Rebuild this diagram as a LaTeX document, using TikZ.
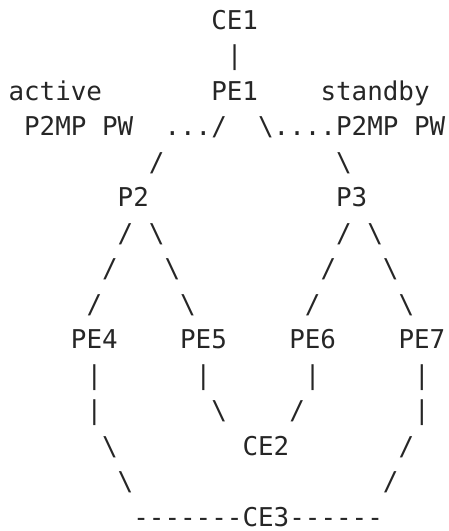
\documentclass[tikz,border=0pt]{standalone}
\usepackage{fontspec}
\setmonofont{DejaVu Sans Mono}
\definecolor{ink}{HTML}{262626}
\tikzset{
  txt/.style={font=\ttfamily\fontsize{25.9pt}{30pt}\selectfont, text=ink,
    inner sep=0pt, text height=18.9pt, text depth=0pt, anchor=center}
}
\begin{document}
\begin{tikzpicture}[x=15.6pt, y=-35.5pt]
\useasboundingbox (-8.5pt,20pt) rectangle (439.5pt,-511pt);
% row 0-3
\node[txt] (ce1) at (14.5,0) {CE1};
\node[txt] (l1) at (14.5,1) {|};
\node[txt] (active) at (3,2) {active};
\node[txt] (pe1) at (14.5,2) {PE1};
\node[txt] (standby) at (23.5,2) {standby};
\node[txt] (pwa) at (4.5,3) {P2MP PW};
\node[txt] (dotsl) at (12,3) {.../};
\node[txt] (dotsr) at (18.5,3) {\textbackslash....};
\node[txt] (pws) at (24.5,3) {P2MP PW};
% row 4-5
\node[txt] (s4a) at (9.5,4) {/};
\node[txt] (s4b) at (21.5,4) {\textbackslash};
\node[txt] (p2) at (8,5) {P2};
\node[txt] (p3) at (22,5) {P3};
% row 6-8
\node[txt] (s6a) at (7.5,6) {/};
\node[txt] (s6b) at (9.5,6) {\textbackslash};
\node[txt] (s6c) at (21.5,6) {/};
\node[txt] (s6d) at (23.5,6) {\textbackslash};
\node[txt] (s7a) at (6.5,7) {/};
\node[txt] (s7b) at (10.5,7) {\textbackslash};
\node[txt] (s7c) at (20.5,7) {/};
\node[txt] (s7d) at (24.5,7) {\textbackslash};
\node[txt] (s8a) at (5.5,8) {/};
\node[txt] (s8b) at (11.5,8) {\textbackslash};
\node[txt] (s8c) at (19.5,8) {/};
\node[txt] (s8d) at (25.5,8) {\textbackslash};
% row 9
\node[txt] (pe4) at (5.5,9) {PE4};
\node[txt] (pe5) at (12.5,9) {PE5};
\node[txt] (pe6) at (19.5,9) {PE6};
\node[txt] (pe7) at (26.5,9) {PE7};
% row 10-11
\node[txt] (v10a) at (5.5,10) {|};
\node[txt] (v10b) at (12.5,10) {|};
\node[txt] (v10c) at (19.5,10) {|};
\node[txt] (v10d) at (26.5,10) {|};
\node[txt] (v11a) at (5.5,11) {|};
\node[txt] (s11b) at (13.5,11) {\textbackslash};
\node[txt] (s11c) at (18.5,11) {/};
\node[txt] (v11d) at (26.5,11) {|};
% row 12-14
\node[txt] (s12a) at (6.5,12) {\textbackslash};
\node[txt] (ce2) at (16.5,12) {CE2};
\node[txt] (s12c) at (25.5,12) {/};
\node[txt] (s13a) at (7.5,13) {\textbackslash};
\node[txt] (s13b) at (24.5,13) {/};
\node[txt] (dl) at (11.5,14) {-------};
\node[txt] (ce3) at (16.5,14) {CE3};
\node[txt] (dr) at (21,14) {------};
\end{tikzpicture}
\end{document}
